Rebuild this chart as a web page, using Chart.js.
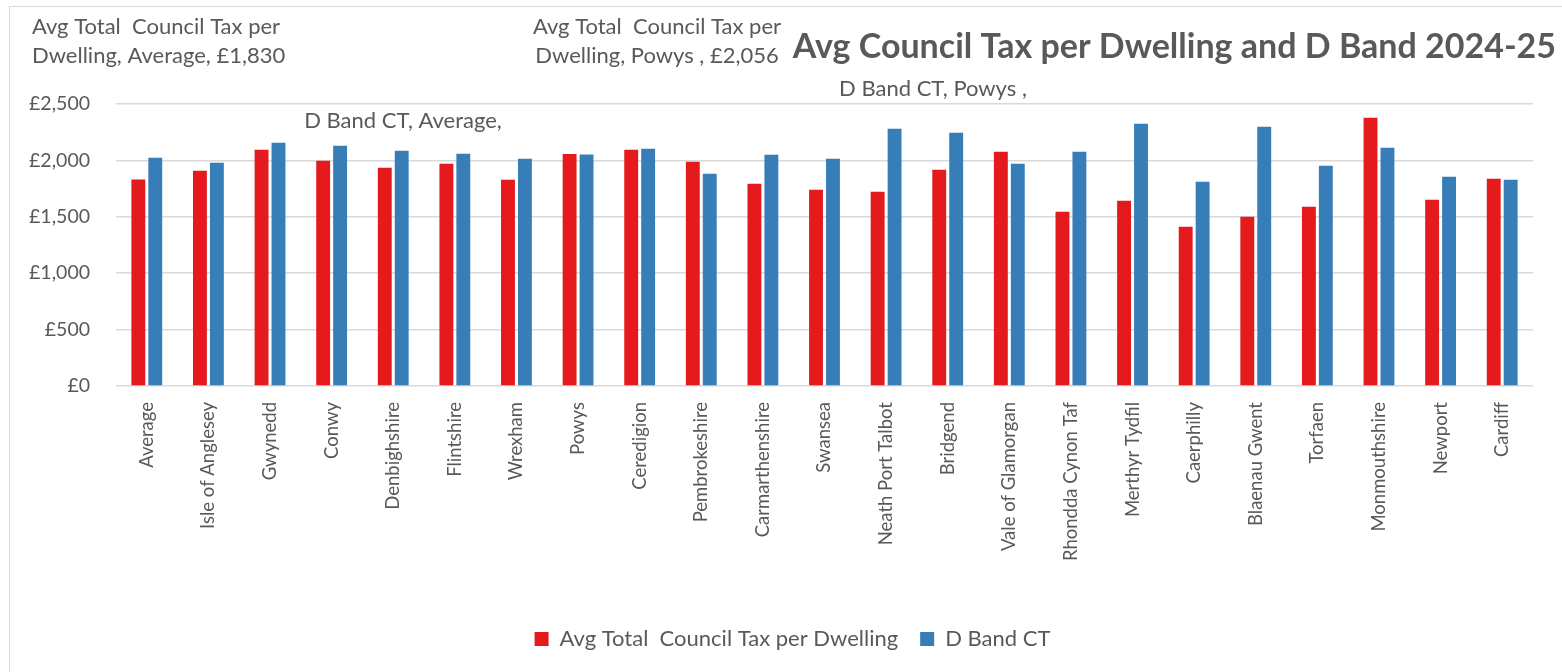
<!DOCTYPE html>
<html>
<head>
<meta charset="utf-8">
<script src="https://cdn.jsdelivr.net/npm/chart.js@4.4.1/dist/chart.umd.min.js"></script>
<style>
  html, body { margin: 0; padding: 0; background: #fff; }
  #wrap { position: relative; width: 1562px; height: 672px; }
  #frame { position: absolute; left: 9px; top: 6px; width: 1560px; height: 670px; border: 1.5px solid #d9d9d9; box-sizing: border-box; pointer-events: none; }
</style>
</head>
<body>
<div id="wrap">
  <canvas id="chart" width="1562" height="672"></canvas>
  <div id="frame"></div>
</div>
<script>
// councils, in the order shown
const councils = [
  'Average', 'Isle of Anglesey', 'Gwynedd', 'Conwy', 'Denbighshire', 'Flintshire',
  'Wrexham', 'Powys', 'Ceredigion', 'Pembrokeshire', 'Carmarthenshire', 'Swansea',
  'Neath Port Talbot', 'Bridgend', 'Vale of Glamorgan', 'Rhondda Cynon Taf',
  'Merthyr Tydfil', 'Caerphilly', 'Blaenau Gwent', 'Torfaen', 'Monmouthshire',
  'Newport', 'Cardiff'
];

// avg total council tax per dwelling (£)
const avgTotal = [
  1830, 1908, 2095, 1997, 1935, 1970, 1828, 2056, 2095, 1988, 1793, 1740,
  1722, 1917, 2077, 1544, 1642, 1411, 1500, 1589, 2379, 1651, 1837
];

// band D council tax (£)
const bandD = [
  2024, 1979, 2157, 2130, 2086, 2059, 2015, 2052, 2104, 1882, 2050, 2015,
  2281, 2246, 1970, 2077, 2325, 1811, 2299, 1953, 2112, 1855, 1828
];

const yTicks = [0, 500, 1000, 1500, 2000, 2500];

const grey = '#595959';
const font = 'Lato, "Open Sans", sans-serif';

// stray data labels + title, as they sit on the original
const overlayText = {
  id: 'overlayText',
  afterLayout(chart) {
    // nudge the legend to sit centred on the frame like the original
    chart.legend.left += 26;
    chart.legend.right += 26;
  },
  afterDraw(chart) {
    const ctx = chart.ctx;
    ctx.save();
    ctx.fillStyle = grey;
    ctx.textBaseline = 'middle';
    ctx.font = '22px ' + font;
    ctx.textAlign = 'left';
    ctx.fillText('Avg Total  Council Tax per', 32, 27);
    ctx.fillText('Dwelling, Average, £1,830', 32, 56);
    ctx.textAlign = 'center';
    ctx.fillText('Avg Total  Council Tax per', 657, 27);
    ctx.fillText('Dwelling, Powys , £2,056', 657, 56);
    ctx.fillText('D Band CT, Average,', 403, 121);
    ctx.fillText('D Band CT, Powys ,', 933, 89);
    ctx.font = 'bold 34px ' + font;
    ctx.textAlign = 'right';
    ctx.fillText('Avg Council Tax per Dwelling and D Band 2024-25', 1556, 47);
    ctx.restore();
  }
};

new Chart(document.getElementById('chart'), {
  type: 'bar',
  data: {
    labels: councils,
    datasets: [
      { label: 'Avg Total  Council Tax per Dwelling', data: avgTotal, backgroundColor: '#e41a1c' },
      { label: 'D Band CT', data: bandD, backgroundColor: '#377eb8' }
    ]
  },
  options: {
    responsive: false,
    animation: false,
    devicePixelRatio: 1,
    layout: { padding: { top: 104, right: 29, bottom: 12, left: 0 } },
    datasets: { bar: { categoryPercentage: 0.55, barPercentage: 0.82 } },
    scales: {
      x: {
        grid: { display: false },
        border: { display: false },
        ticks: { color: grey, font: { family: font, size: 18.5 }, minRotation: 90, maxRotation: 90, padding: 8 },
        afterFit(scale) { scale.height = 220; }
      },
      y: {
        min: 0,
        max: 2500,
        afterBuildTicks(scale) { scale.ticks = yTicks.map(v => ({ value: v })); },
        grid: { color: '#d9d9d9', lineWidth: 1.5, drawTicks: false },
        border: { display: false },
        ticks: {
          color: grey,
          font: { family: font, size: 19.5 },
          padding: 26,
          callback: v => '£' + v.toLocaleString('en-GB')
        },
        afterFit(scale) { scale.width = 116; }
      }
    },
    plugins: {
      legend: {
        position: 'bottom',
        labels: { color: grey, font: { family: font, size: 22 }, boxWidth: 14, boxHeight: 14, padding: 22 }
      },
      tooltip: { enabled: false }
    }
  },
  plugins: [overlayText]
});
</script>
</body>
</html>
